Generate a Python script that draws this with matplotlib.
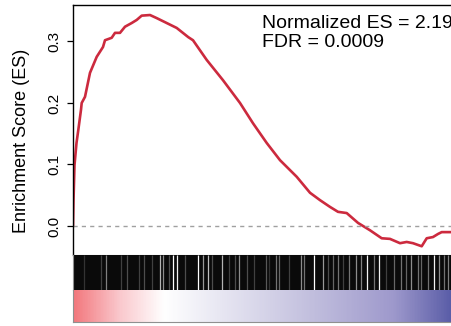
import numpy as np
import matplotlib
matplotlib.use("Agg")
import matplotlib.pyplot as plt
from matplotlib.colors import LinearSegmentedColormap

plt.rcParams["font.family"] = ["Liberation Sans", "DejaVu Sans"]

# running enrichment score (rank, ES)
rank = [0, 25, 75, 175, 265, 400, 435, 600, 850, 1185, 1500, 1600, 1935, 2100,
        2350, 2600, 2935, 3185, 3435, 3850, 4185, 4685, 5185, 5765, 6000, 6685,
        7500, 8350, 9000, 9685, 10350, 11185, 11850, 12350, 12850, 13250, 13685,
        14250, 14850, 15435, 15850, 16350, 16685, 17000, 17435, 17685, 18000,
        18250, 18435, 18850]
es = [0.000, 0.042, 0.099, 0.135, 0.156, 0.189, 0.200, 0.210, 0.249, 0.275,
      0.291, 0.302, 0.306, 0.314, 0.314, 0.324, 0.330, 0.335, 0.342, 0.343,
      0.338, 0.330, 0.322, 0.307, 0.302, 0.270, 0.237, 0.200, 0.167, 0.135,
      0.107, 0.080, 0.054, 0.042, 0.031, 0.023, 0.021, 0.005, -0.007, -0.020,
      -0.021, -0.028, -0.026, -0.028, -0.033, -0.020, -0.018, -0.013, -0.010,
      -0.010]

# bright lines in the barcode strip (rank, brightness)
bar_rank = [535, 1415, 1665, 2415, 2700, 3285, 3535, 3950, 4365, 4485, 4785,
            4985, 5200, 5615, 6250, 6500, 6750, 6950, 7450, 7785, 8115, 8285,
            8700, 9035, 9650, 9815, 10150, 10315, 10815, 11400, 11565, 12065,
            12485, 12735, 12985, 13235, 13485, 13815, 14150, 14400, 14700,
            15065, 15315, 15650, 16065, 16400, 16650, 16900, 17235, 17400,
            17735, 18065, 18315, 18565, 18735]
bar_level = [0.2, 0.25, 0.5, 0.25, 0.3, 0.25, 0.3, 0.25, 0.7, 0.55, 0.3, 1.0,
             0.95, 0.3, 1.0, 0.6, 0.75, 0.3, 0.7, 0.25, 0.3, 0.55, 0.3, 0.25,
             0.35, 0.2, 0.45, 0.4, 0.25, 0.55, 0.45, 1.0, 0.6, 0.3, 0.4, 0.45,
             0.25, 0.45, 0.55, 0.5, 0.95, 0.45, 0.95, 0.25, 0.4, 0.45, 0.4, 0.55,
             0.45, 0.4, 0.45, 0.95, 0.55, 0.45, 0.5]

nes_text = "Normalized ES = 2.19"
fdr_text = "FDR = 0.0009"
XMAX = 18900

W, H = 451, 326
fig = plt.figure(figsize=(W / 100, H / 100), dpi=100)

def box(x0, y0, x1, y1):
    return [x0 / W, 1 - y1 / H, (x1 - x0) / W, (y1 - y0) / H]

ax = fig.add_axes(box(73, 5, 451, 255))
ax.plot(rank, es, color="#CC2A3E", lw=1.9, solid_joinstyle="round")
ax.axhline(0, color="#A0A0A0", lw=1.0, ls=(0, (3, 3)))
ax.set_xlim(0, XMAX)
ax.set_ylim(-0.0472, 0.3593)
ax.set_xticks([])
ax.set_yticks([0.0, 0.1, 0.2, 0.3])
ax.set_yticklabels(["0.0", "0.1", "0.2", "0.3"], rotation=90, va="center")
ax.tick_params(axis="y", labelsize=11, length=4.5, width=0.9, pad=4)
ax.set_ylabel("Enrichment Score (ES)", fontsize=13, va="center")
ax.yaxis.set_label_coords(-0.135, 0.455)
ax.spines["right"].set_visible(False)
ax.spines["bottom"].set_color("#909090")
for s in ("top", "left"):
    ax.spines[s].set_linewidth(1.0)
ax.text(9435, 0.322, nes_text, fontsize=14, va="baseline", ha="left")
ax.text(9435, 0.291, fdr_text, fontsize=14, va="baseline", ha="left")

# barcode of gene-set hits
axb = fig.add_axes(box(73, 255, 451, 290))
axb.set_facecolor("#0A0A0A")
axb.vlines(bar_rank, 0, 1, colors=[str(v) for v in bar_level], lw=0.9)
axb.set_xlim(0, XMAX)
axb.set_ylim(0, 1)
axb.set_xticks([])
axb.set_yticks([])
for s in ("top", "right", "bottom"):
    axb.spines[s].set_visible(False)
axb.spines["left"].set_color("#909090")

# ranked metric colour strip
axc = fig.add_axes(box(73, 290, 451, 322))
cmap = LinearSegmentedColormap.from_list(
    "rank", [(0.0, (0.95, 0.47, 0.49)), (0.12, (0.98, 0.78, 0.80)),
             (0.24, (1.0, 1.0, 1.0)), (0.6, (0.78, 0.77, 0.88)),
             (0.85, (0.62, 0.60, 0.80)), (1.0, (0.36, 0.37, 0.66))])
axc.imshow(np.linspace(0, 1, 400)[None, :], aspect="auto", cmap=cmap,
           extent=(0, XMAX, 0, 1))
axc.set_xlim(0, XMAX)
axc.set_xticks([])
axc.set_yticks([])
axc.spines["top"].set_visible(False)
axc.spines["right"].set_visible(False)
axc.spines["left"].set_color("#909090")
axc.spines["bottom"].set_color("#909090")

fig.savefig("out.png", dpi=100)
